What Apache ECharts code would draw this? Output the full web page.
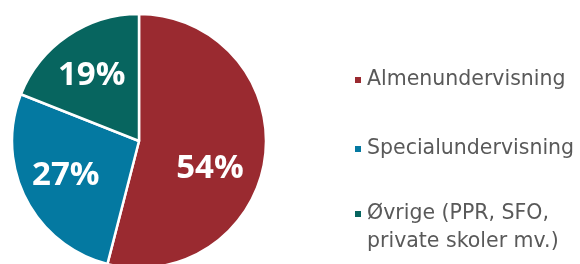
<!DOCTYPE html>
<html><head><meta charset="utf-8">
<script src="https://cdn.jsdelivr.net/npm/echarts@6/dist/echarts.min.js"></script>
<style>html,body{margin:0;padding:0;background:#fff}#c{width:580px;height:264px}</style>
</head><body><div id="c"></div>
<script>
const categories = ['Almenundervisning', 'Specialundervisning', 'Øvrige (PPR, SFO,\nprivate skoler mv.)'];
const values = [54, 27, 19];
const colors = ['#9A2A30', '#0479A1', '#07655F'];
const labelShift = [[5, 19], [-14, 4], [-10, -10]];

const chart = echarts.init(document.getElementById('c'), null, {renderer: 'canvas'});
const legendText = {fontFamily: 'DejaVu Sans', fontSize: 20.5, color: '#595959', lineHeight: 28};
function mkLegend(i, top, fmt) {
  return {
    data: [categories[i]], orient: 'vertical', left: 353, top: top, padding: 0,
    icon: 'rect', itemWidth: 8, itemHeight: 8, selectedMode: false,
    formatter: fmt || (n => n),
    textStyle: legendText
  };
}
chart.setOption({
  animation: false,
  color: colors,
  legend: [
    mkLegend(0, 66),
    mkLegend(1, 135),
    mkLegend(2, 172, n => ' \n' + n)
  ],
  series: [{
    type: 'pie',
    center: [139, 141],
    radius: 127,
    startAngle: 90,
    clockwise: true,
    itemStyle: {borderColor: '#fff', borderWidth: 2.5},
    label: {
      show: true, position: 'inside', color: '#fff',
      fontFamily: 'Open Sans', fontWeight: 'bold', fontSize: 33,
      formatter: p => p.value + '%'
    },
    labelLayout: p => ({dx: labelShift[p.dataIndex][0], dy: labelShift[p.dataIndex][1]}),
    labelLine: {show: false},
    emphasis: {disabled: true},
    data: categories.map((n, i) => ({name: n, value: values[i]}))
  }]
});
</script></body></html>
